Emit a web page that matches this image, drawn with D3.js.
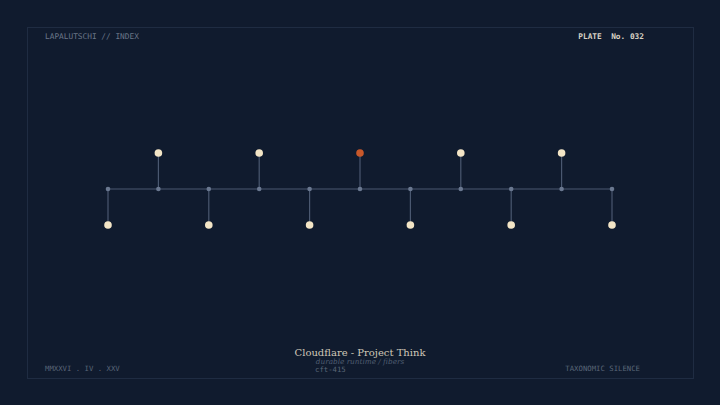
<!DOCTYPE html>
<html><head><meta charset="utf-8">
<script src="https://cdn.jsdelivr.net/npm/d3@7"></script>
<style>body{margin:0;background:#101b2e}svg{display:block}</style>
</head><body><svg id="c" width="720" height="405"></svg>
<script>
const categories = [0,1,2,3,4,5,6,7,8,9,10];
const values = [-1,1,-1,1,-1,1,-1,1,-1,1,-1];
const highlight = [5];
const svg = d3.select("#c");
svg.append("rect").attr("width",720).attr("height",405).attr("fill","#101b2e");
svg.append("rect").attr("x",27.5).attr("y",27.5).attr("width",666).attr("height",351)
  .attr("fill","none").attr("stroke","#1f2c42").attr("stroke-width",1);
const x = d3.scaleLinear().domain([0,10]).range([108,612]);
const y = d3.scaleLinear().domain([-1,1]).range([225,153]);
const y0 = y(0);
svg.append("line").attr("x1",x(0)).attr("x2",x(10)).attr("y1",y0).attr("y2",y0)
  .attr("stroke","#4a5870").attr("stroke-width",1.2);
const g = svg.selectAll("g.p").data(categories).join("g");
g.append("line").attr("x1",d=>x(d)).attr("x2",d=>x(d)).attr("y1",y0).attr("y2",(d,i)=>y(values[i]))
  .attr("stroke","#4a5870").attr("stroke-width",1.2);
g.append("circle").attr("cx",d=>x(d)).attr("cy",y0).attr("r",2.3).attr("fill","#6a7890");
g.append("circle").attr("cx",d=>x(d)).attr("cy",(d,i)=>y(values[i])).attr("r",3.8)
  .attr("fill",(d,i)=>highlight.includes(i)?"#c8582a":"#f3e5c6");
const mono="'DejaVu Sans Mono', monospace";
svg.append("text").attr("x",45).attr("y",39).text("LAPALUTSCHI // INDEX").attr("font-family",mono).attr("font-size",7.8).attr("fill","#6a7688");
svg.append("text").attr("x",644).attr("y",39).attr("text-anchor","end").text("PLATE  No. 032").attr("xml:space","preserve").attr("font-family",mono).attr("font-size",7.8).attr("font-weight","bold").attr("fill","#d8d2c4");
svg.append("text").attr("x",45).attr("y",371).text("MMXXVI . IV . XXV").attr("font-family",mono).attr("font-size",7.3).attr("fill","#5a6678");
svg.append("text").attr("x",640).attr("y",371).attr("text-anchor","end").text("TAXONOMIC SILENCE").attr("font-family",mono).attr("font-size",7.3).attr("fill","#5a6678");
svg.append("text").attr("x",360).attr("y",356).attr("text-anchor","middle").text("Cloudflare - Project Think").attr("font-family","'DejaVu Serif', serif").attr("font-size",10).attr("fill","#cfc8b8");
svg.append("text").attr("x",360).attr("y",364).attr("text-anchor","middle").text("durable runtime / fibers").attr("font-family","'DejaVu Serif', serif").attr("font-style","italic").attr("font-size",7.3).attr("fill","#4f5c70");
svg.append("text").attr("x",315).attr("y",371.5).text("cft-415").attr("font-family",mono).attr("font-size",7.3).attr("fill","#5a6678");
</script></body></html>
